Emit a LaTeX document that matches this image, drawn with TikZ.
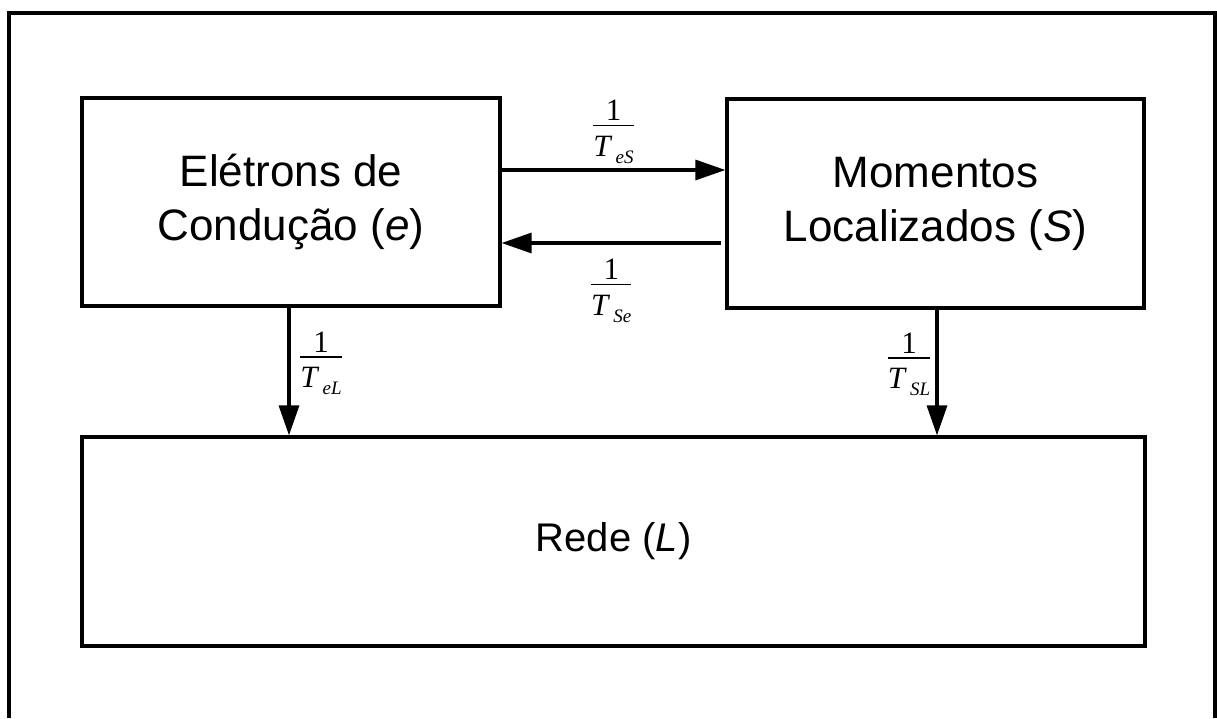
\documentclass[tikz,border=0pt]{standalone}
\usepackage{fontspec}
\setmainfont{Liberation Sans}
\newfontfamily\ratefont{Liberation Serif}
\usetikzlibrary{arrows.meta}

% relaxation rate 1/T_{xy}, set as a small stacked fraction
\newcommand{\ratefrac}[1]{%
  {\ratefont\fontsize{31}{37}\selectfont
   \setlength{\arrayrulewidth}{1.6pt}%
   \renewcommand{\arraystretch}{0}%
   \begin{tabular}{@{}c@{}}
     \rule[-4pt]{0pt}{28pt}1\\\hline
     \rule[-11pt]{0pt}{41pt}\itshape T\hspace{5pt}\raisebox{-7pt}{\fontsize{19}{19}\selectfont #1}
   \end{tabular}}}

\tikzset{
  x=1pt, y=-1pt,
  ln/.style={line width=3.2pt, black},
  block/.style={ln, draw, rectangle, inner sep=0pt, align=center,
    font=\fontsize{44}{54}\selectfont},
  flow/.style={ln, -{Triangle[length=30pt,width=20pt]}},
  ratelabel/.style={inner sep=0pt}
}

\begin{document}
\begin{tikzpicture}
  \useasboundingbox (0,0) rectangle (1217,718);
  % outer frame (open at the bottom edge)
  \draw[ln] (9,718) -- (9,13) -- (1215,13) -- (1215,718);

  % the three reservoirs
  \node[block, minimum width=418pt, minimum height=208pt] (e) at (291,202)
    {Elétrons de\\Condução (\textit{e})};
  \node[block, minimum width=417pt, minimum height=209pt] (S) at (935.5,203.5)
    {Momentos\\Localizados (\textit{S})};
  \node[block, minimum width=1063pt, minimum height=209pt,
        font=\fontsize{40}{48}\selectfont] (L) at (613.5,541.5)
    {Rede (\textit{L})};

  % guide levels for the connectors
  \coordinate (top) at (0,170);
  \coordinate (bot) at (721,243);
  \coordinate (xl) at (289,0);
  \coordinate (xr) at (937,0);

  % e -> S
  \draw[flow] (e.east |- top) -- (S.west |- top)
    node[ratelabel, midway, yshift=38pt] (teS) {\ratefrac{eS}};
  % S -> e
  \draw[flow] (bot) -- (bot -| e.east)
    node[ratelabel, midway, yshift=-48pt] (tSe) {\ratefrac{Se}};
  % e -> L
  \draw[flow] (xl |- e.south) -- (xl |- L.north)
    node[ratelabel, midway, xshift=32pt, yshift=8pt] (teL) {\ratefrac{eL}};
  % S -> L
  \draw[flow] (xr |- S.south) -- (xr |- L.north)
    node[ratelabel, midway, xshift=-28pt, yshift=8pt] (tSL) {\ratefrac{SL}};
\end{tikzpicture}
\end{document}
